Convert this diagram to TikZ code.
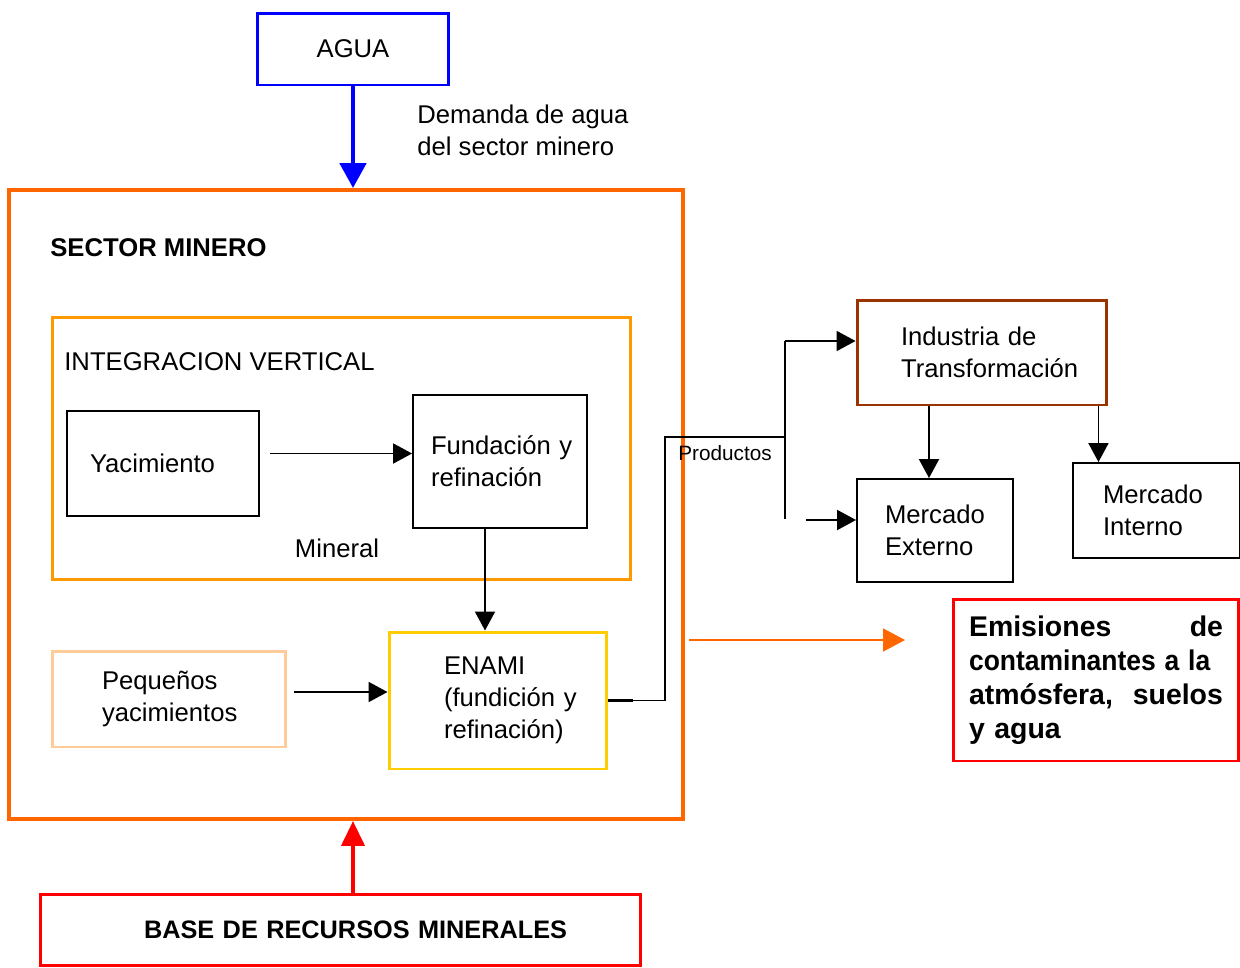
\documentclass[tikz,border=0pt]{standalone}
\usepackage{fontspec}
\setmainfont{Liberation Sans}
\usepackage{tikz}
\usetikzlibrary{arrows.meta, positioning}
\definecolor{aguablue}{HTML}{0000FF}
\definecolor{sectororange}{HTML}{FF6600}
\definecolor{integorange}{HTML}{FF9900}
\definecolor{peqpeach}{HTML}{FFCC99}
\definecolor{enamiyellow}{HTML}{FFCC00}
\definecolor{indbrown}{HTML}{993300}
\definecolor{emisred}{HTML}{FF0000}
\tikzstyle{plainbox} = [rectangle, draw=black, line width=1.1pt, align=left]
\tikzstyle{colorbox} = [rectangle, line width=1.7pt, align=left]
\tikzstyle{freetext} = [anchor=west, inner xsep=0pt, align=left]
\tikzstyle{arrow} = [line width=1.1pt,-{Triangle[length=0.38cm,width=0.4cm]}]
\tikzstyle{connect} = [line width=1.1pt,-]
\tikzstyle{bluearrow} = [draw=aguablue, line width=2.8pt,-{Triangle[length=0.5cm,width=0.52cm]}]
\tikzstyle{redarrow} = [draw=emisred, line width=2.3pt,-{Triangle[length=0.5cm,width=0.46cm]}]
\tikzstyle{orangearrow} = [draw=sectororange, line width=1.1pt,-{Triangle[length=0.44cm,width=0.46cm]}]
\begin{document}
\begin{tikzpicture}[x=0.02cm, y=-0.02cm, font=\fontsize{14.6}{18.1}\selectfont]
\useasboundingbox (0,0) rectangle (1240,967);

\node(agua)[colorbox, draw=aguablue, minimum width=3.84cm, minimum height=1.44cm] at (353,49) {AGUA};
\node(demanda)[freetext] at (417,130) {Demanda de agua\\del sector minero};

\node(sector)[colorbox, draw=sectororange, line width=2.3pt, minimum width=13.48cm, minimum height=12.58cm] at (346,504.5) {};
\node(sectorlabel)[freetext, font=\fontsize{14.6}{18.1}\selectfont\bfseries] at (50,248) {SECTOR MINERO};

\node(integ)[colorbox, draw=integorange, minimum width=11.58cm, minimum height=5.26cm] at (341.5,448.5) {};
\node(integlabel)[freetext] at (64,362) {INTEGRACION VERTICAL};

\node(yac)[plainbox, inner xsep=0.46cm, text width=2.92cm, minimum height=2.1cm] at (163,463.5) {Yacimiento};
\node(fund)[plainbox, inner xsep=0.36cm, text width=2.76cm, minimum height=2.66cm] at (500,461.5) {Fundación~y\\refinación};
\node(mineral) at (337,548) {Mineral};

\node(peq)[colorbox, draw=peqpeach, inner xsep=1.0cm, text width=2.68cm, minimum height=1.92cm] at (169,699) {Pequeños\\yacimientos};
\node(enami)[colorbox, draw=enamiyellow, inner xsep=1.1cm, text width=2.16cm, minimum height=2.74cm] at (498,700.5) {ENAMI\\(fundición~y\\refinación)};

\node(ind)[colorbox, draw=indbrown, inner xsep=0.88cm, text width=3.24cm, minimum height=2.1cm] at (982,352.5) {Industria~de\\Transformación};
\node(ext)[plainbox, inner xsep=0.56cm, text width=2.0cm, minimum height=2.06cm] at (935,530.5) {Mercado\\Externo};
\node(int)[plainbox, inner xsep=0.6cm, text width=2.14cm, minimum height=1.9cm] at (1156.5,510.5) {Mercado\\Interno};
\node(prodlabel)[font=\fontsize{11.8}{14}\selectfont] at (725,453) {Productos};

\node(emis)[colorbox, draw=emisred, inner xsep=0.32cm, text width=5.08cm, minimum height=3.24cm, font=\fontsize{16.2}{19.3}\selectfont\bfseries] at (1096,680) {Emisiones\hfill de\\\scalebox{0.93}[1]{contaminantes a la}\\atmósfera,\hfill suelos\\y agua};

\node(base)[colorbox, draw=emisred, inner xsep=2.08cm, text width=7.86cm, minimum height=1.42cm, font=\fontsize{14.4}{18.1}\selectfont\bfseries] at (340.5,929.5) {\mbox{BASE DE RECURSOS MINERALES}};

\coordinate (yacout) at ([shift={(10,-10)}]yac.east);
\coordinate (fundout) at ([shift={(-15,0)}]fund.south);
\coordinate (peqout) at ([shift={(7,-7)}]peq.east);
\coordinate (prodbend) at (665,437);
\coordinate (split) at (785,437);
\coordinate (ptop) at (785,341);
\coordinate (pbot) at (785,519);
\coordinate (extin) at (806,520);
\coordinate (emisstart) at (689,640);
\coordinate (emisend) at (905,640);

\draw [bluearrow] (agua.south) -- (agua.south |- sector.north);
\draw [redarrow] (base.north -| agua) -- (sector.south -| agua);
\draw [arrow] (yacout) -- (yacout -| fund.west);
\draw [arrow] (fundout) -- (fundout |- enami.north);
\draw [arrow] (peqout) -- (peqout -| enami.west);
\draw [line width=2.2pt] (enami.east) -- ++(25,0);
\draw [connect] (enami.east) -| (prodbend) -- (split);
\draw [connect] (ptop) -- (pbot);
\draw [arrow] (ptop) -- (ptop -| ind.west);
\draw [arrow] (extin) -- (extin -| ext.west);
\draw [arrow] ([shift={(-6,0)}]ind.south -| ext.north) -- ([shift={(-6,0)}]ext.north);
\draw [arrow] ([shift={(-10,0)}]ind.south east) -- ([shift={(-10,0)}]ind.south east |- int.north);
\draw [orangearrow] (emisstart) -- (emisend);
\end{tikzpicture}
\end{document}
